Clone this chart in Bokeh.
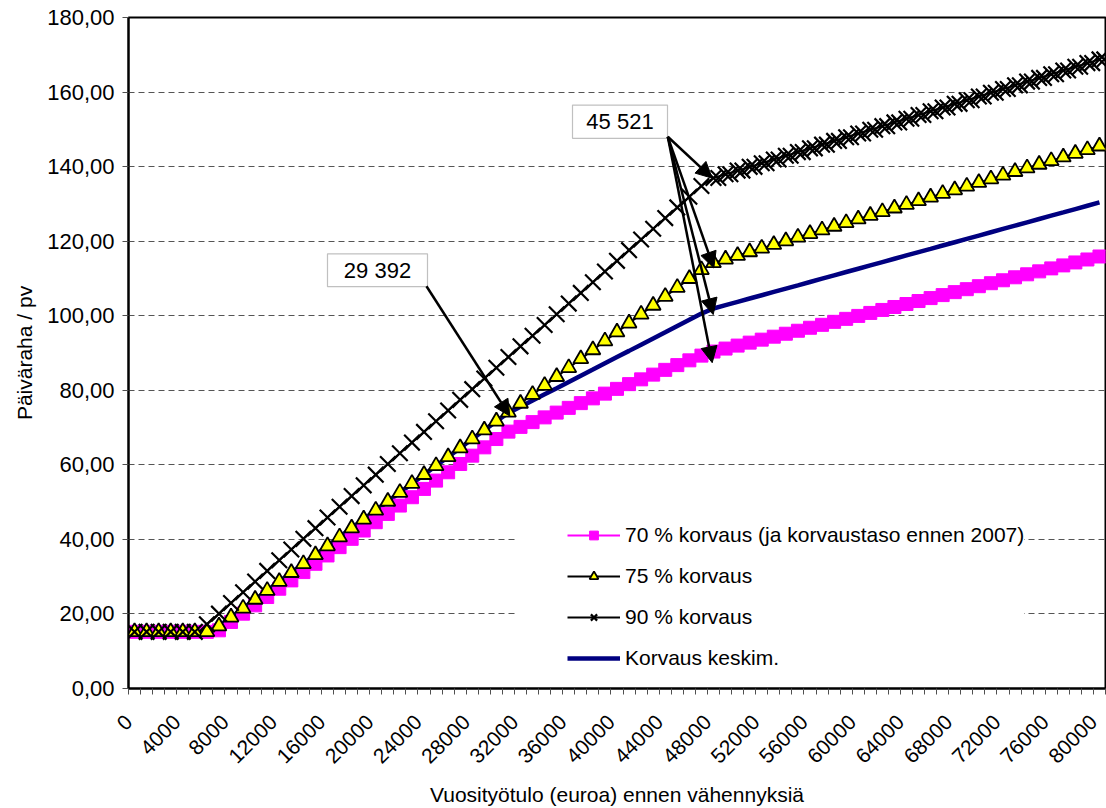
from math import pi
from bokeh.plotting import figure
from bokeh.models import (FixedTicker, Range1d, Legend, LegendItem, Label, Arrow,
                          NormalHead, BoxAnnotation, LinearAxis)
from bokeh.embed import file_html
from bokeh.resources import INLINE

# ---------------- data ----------------
income = list(range(0, 80001, 1000))   # categories: annual income, euros

s70 = [15.2, 15.2, 15.2, 15.2, 15.2, 15.2, 15.2, 15.61, 17.85, 20.08,
       22.31, 24.54, 26.77, 29.00, 31.23, 33.46, 35.69, 37.92, 40.15, 42.38,
       44.61, 46.84, 49.07, 51.31, 53.54, 55.77, 58.00, 60.23, 62.46, 64.69,
       66.92, 68.91, 70.18, 71.46, 72.73, 74.01, 75.28, 76.55, 77.83, 79.10,
       80.38, 81.65, 82.93, 84.20, 85.48, 86.75, 88.03, 89.30, 90.39, 91.19,
       91.99, 92.78, 93.58, 94.38, 95.17, 95.97, 96.77, 97.56, 98.36, 99.16,
       99.95, 100.75, 101.55, 102.34, 103.14, 103.94, 104.73, 105.53, 106.33, 107.12,
       107.92, 108.72, 109.51, 110.31, 111.11, 111.90, 112.70, 113.50, 114.29, 115.09,
       115.89]

s75 = [15.2, 15.2, 15.2, 15.2, 15.2, 15.2, 15.2, 16.73, 19.12, 21.51,
       23.90, 26.29, 28.68, 31.07, 33.46, 35.85, 38.24, 40.63, 43.02, 45.41,
       47.80, 50.19, 52.58, 54.97, 57.36, 59.75, 62.14, 64.53, 66.92, 69.31,
       71.70, 74.09, 76.48, 78.87, 81.26, 83.65, 86.04, 88.43, 90.82, 93.21,
       95.60, 97.99, 100.38, 102.77, 105.16, 107.55, 109.94, 112.33, 114.18, 115.16,
       116.13, 117.11, 118.09, 119.07, 120.05, 121.03, 122.00, 122.98, 123.96, 124.94,
       125.92, 126.90, 127.87, 128.85, 129.83, 130.81, 131.79, 132.77, 133.74, 134.72,
       135.70, 136.68, 137.66, 138.64, 139.61, 140.59, 141.57, 142.55, 143.53, 144.51,
       145.48]

s90 = [15.2, 15.2, 15.2, 15.2, 15.2, 15.2, 17.21, 20.08, 22.94, 25.81,
       28.68, 31.55, 34.42, 37.28, 40.15, 43.02, 45.89, 48.76, 51.62, 54.49,
       57.36, 60.23, 63.10, 65.96, 68.83, 71.70, 74.57, 77.44, 80.30, 83.17,
       86.04, 88.91, 91.78, 94.64, 97.51, 100.38, 103.25, 106.12, 108.98, 111.85,
       114.72, 117.59, 120.46, 123.32, 126.19, 129.06, 131.93, 134.80, 136.95, 137.94,
       138.93, 139.93, 140.92, 141.92, 142.91, 143.90, 144.90, 145.89, 146.89, 147.88,
       148.88, 149.87, 150.86, 151.86, 152.85, 153.85, 154.84, 155.84, 156.83, 157.82,
       158.82, 159.81, 160.81, 161.80, 162.80, 163.79, 164.78, 165.78, 166.77, 167.77,
       168.76]

avg = [15.2, 15.2, 15.2, 15.2, 15.2, 15.2, 15.2, 16.73, 19.12, 21.51,
       23.90, 26.29, 28.68, 31.07, 33.46, 35.85, 38.24, 40.63, 43.02, 45.41,
       47.80, 50.19, 52.58, 54.97, 57.36, 59.75, 62.14, 64.53, 66.92, 69.31,
       71.70, 73.91, 75.57, 77.24, 78.91, 80.57, 82.24, 83.91, 85.57, 87.24,
       88.91, 90.57, 92.24, 93.91, 95.57, 97.24, 98.91, 100.57, 101.94, 102.83,
       103.72, 104.61, 105.50, 106.39, 107.28, 108.16, 109.05, 109.94, 110.83, 111.72,
       112.61, 113.50, 114.39, 115.28, 116.17, 117.06, 117.94, 118.83, 119.72, 120.61,
       121.50, 122.39, 123.28, 124.17, 125.06, 125.95, 126.84, 127.72, 128.61, 129.50,
       130.39]

series_names = ["70 % korvaus (ja korvaustaso ennen 2007)", "75 % korvaus",
                "90 % korvaus", "Korvaus keskim."]

x_tick_labels = ["0", "4000", "8000", "12000", "16000", "20000", "24000", "28000",
                 "32000", "36000", "40000", "44000", "48000", "52000", "56000",
                 "60000", "64000", "68000", "72000", "76000", "80000"]
y_ticks = [0, 20, 40, 60, 80, 100, 120, 140, 160, 180]
y_tick_labels = ["0,00", "20,00", "40,00", "60,00", "80,00", "100,00", "120,00",
                 "140,00", "160,00", "180,00"]

callout_texts = ["29 392", "45 521"]

FONT = "Liberation Sans"
FS = "21px"
FS_TICK = "22px"

half = 500
x_lo = income[0] - half
x_hi = income[-1] + half

p = figure(width=1106, height=808, output_backend="svg", toolbar_location=None,
           x_range=Range1d(x_lo, x_hi), y_range=Range1d(0, 180),
           min_border_left=128, min_border_right=1, min_border_top=17,
           min_border_bottom=118)
p.background_fill_color = "white"
p.border_fill_color = "white"
p.outline_line_color = "black"
p.outline_line_width = 2

# grid
p.xgrid.visible = False
p.ygrid.grid_line_color = "#555555"
p.ygrid.grid_line_dash = "6 4"
p.ygrid.grid_line_width = 1

# y axis
p.yaxis.ticker = FixedTicker(ticks=y_ticks)
p.yaxis.major_label_overrides = {t: s for t, s in zip(y_ticks, y_tick_labels)}
p.yaxis.axis_line_color = "black"
p.yaxis.axis_line_width = 2
p.yaxis.major_tick_out = 6
p.yaxis.major_tick_in = 0
p.yaxis.major_tick_line_color = "#505050"
p.yaxis.minor_tick_out = 0
p.yaxis.minor_tick_in = 0
p.yaxis.major_label_text_font = FONT
p.yaxis.major_label_text_font_size = FS_TICK
p.yaxis.major_label_text_color = "black"
p.yaxis.major_label_standoff = 8
p.yaxis.axis_label = "Päiväraha / pv"
p.yaxis.axis_label_text_font = FONT
p.yaxis.axis_label_text_font_size = FS
p.yaxis.axis_label_text_font_style = "normal"
p.yaxis.axis_label_text_color = "black"
p.yaxis.axis_label_standoff = 8

# x axis: category boundary ticks on the main axis
x_bounds = [c - half for c in income] + [income[-1] + half]
p.xaxis.ticker = FixedTicker(ticks=[], minor_ticks=x_bounds)
p.xaxis.axis_line_color = "black"
p.xaxis.axis_line_width = 2
p.xaxis.major_tick_out = 0
p.xaxis.major_tick_in = 0
p.xaxis.minor_tick_out = 6
p.xaxis.minor_tick_in = 0
p.xaxis.minor_tick_line_color = "#505050"
p.xaxis.major_label_standoff = 0

# labels axis (rotated labels sit slightly left of their category, as in the source)
lab_shift = 480
x_label_pos = [int(s) - lab_shift for s in x_tick_labels]
lab_axis = LinearAxis(ticker=FixedTicker(ticks=x_label_pos),
                      major_label_overrides={v: s for v, s in zip(x_label_pos, x_tick_labels)})
lab_axis.axis_line_color = None
lab_axis.major_tick_line_color = None
lab_axis.minor_tick_line_color = None
lab_axis.major_tick_out = 0
lab_axis.major_tick_in = 0
lab_axis.minor_tick_out = 0
lab_axis.minor_tick_in = 0
lab_axis.major_label_orientation = pi / 4
lab_axis.major_label_text_font = FONT
lab_axis.major_label_text_font_size = FS
lab_axis.major_label_text_color = "black"
lab_axis.major_label_standoff = 24
lab_axis.axis_label = "Vuosityötulo (euroa) ennen vähennyksiä"
lab_axis.axis_label_text_font = FONT
lab_axis.axis_label_text_font_size = FS
lab_axis.axis_label_text_font_style = "normal"
lab_axis.axis_label_text_color = "black"
lab_axis.axis_label_standoff = 10
p.add_layout(lab_axis, "below")

# lines
l70 = p.line(income, s70, line_color="#FF00FF", line_width=2)
l75 = p.line(income, s75, line_color="black", line_width=2)
l90 = p.line(income, s90, line_color="black", line_width=2)
lavg = p.line(income, avg, line_color="#000080", line_width=4.5)

# markers
m70 = p.scatter(income, s70, marker="square", size=13, fill_color="#FF00FF",
                line_color="#FF00FF")
m75 = p.scatter(income, s75, marker="triangle", size=15, fill_color="#FFFF00",
                line_color="black", line_width=1.8)
m90 = p.scatter(income, s90, marker="x", size=22, line_color="black", line_width=2.2)
# doubled cross markers visible beyond the upper kink
k = 48
m90b = p.scatter([c + 400 for c in income[k:]], s90[k:], marker="x", size=22,
                 line_color="black", line_width=2.2)

# white area covered by the legend box (hides grid lines)
p.add_layout(BoxAnnotation(left=31585, right=36500, bottom=4, top=48.5,
                           fill_color="white", fill_alpha=1, line_color=None))

legend = Legend(items=[
    LegendItem(label=series_names[0], renderers=[l70, m70]),
    LegendItem(label=series_names[1], renderers=[l75, m75]),
    LegendItem(label=series_names[2], renderers=[l90, m90]),
    LegendItem(label=series_names[3], renderers=[lavg]),
], location=(439, 18))
legend.border_line_color = None
legend.background_fill_color = "white"
legend.background_fill_alpha = 1
legend.label_text_font = FONT
legend.label_text_font_size = FS
legend.label_text_color = "black"
legend.glyph_width = 53
legend.glyph_height = 22
legend.label_height = 22
legend.spacing = 17
legend.padding = 8
legend.margin = 0
legend.label_standoff = 5
p.add_layout(legend)

# callout boxes (drawn before the arrows that leave them)
for left, right, bottom, top in [(15998, 24289, 107.8, 116.6),
                                 (36311, 44187, 147.6, 156.5)]:
    p.add_layout(BoxAnnotation(left=left, right=right, bottom=bottom, top=top,
                               fill_color="white", fill_alpha=1,
                               line_color="#303030", line_width=1.2))

# arrows
def arrow(xs, ys, xe, ye):
    p.add_layout(Arrow(end=NormalHead(size=16, fill_color="black", line_color="black"),
                       x_start=xs, y_start=ys, x_end=xe, y_end=ye,
                       line_color="black", line_width=2.5))

arrow(24206, 107.9, 31114, 73.1)
for xe, ye in [(47893, 136.9), (48025, 112.8), (47975, 100.3), (47893, 87.4)]:
    arrow(44212, 148.0, xe, ye)

# callout texts
for txt, cx, cy in [(callout_texts[0], 20144, 112.2), (callout_texts[1], 40249, 152.05)]:
    p.add_layout(Label(x=cx, y=cy, text=txt, text_align="center",
                       text_baseline="middle", text_font=FONT, text_font_size=FS_TICK,
                       text_color="black"))

open("out.html", "w").write(file_html(p, INLINE))
